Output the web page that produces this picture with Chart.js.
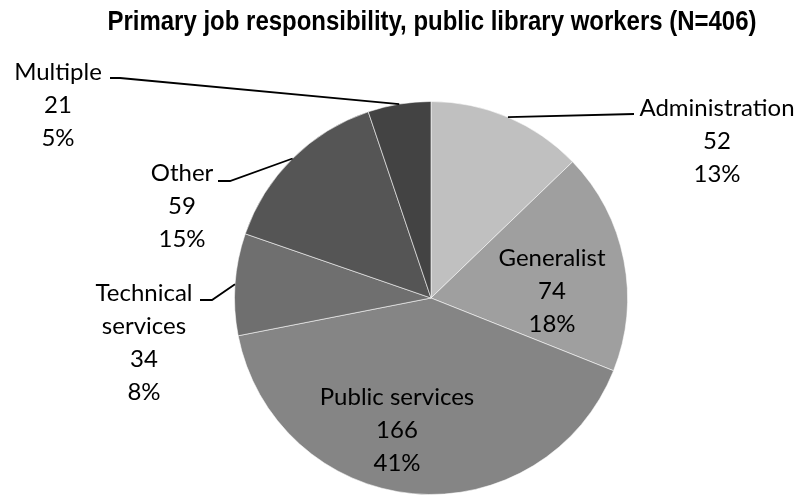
<!DOCTYPE html>
<html>
<head>
<meta charset="utf-8">
<script src="https://cdn.jsdelivr.net/npm/chart.js@4/dist/chart.umd.min.js"></script>
<style>
  html, body { margin: 0; padding: 0; background: #fff; }
  #wrap { width: 801px; height: 496px; position: relative; }
</style>
</head>
<body>
<div id="wrap"><canvas id="jobPie"></canvas></div>
<script>
// --- data ---
const chartTitle = 'Primary job responsibility, public library workers (N=406)';
const categories = ['Administration', 'Generalist', 'Public services', 'Technical services', 'Other', 'Multiple'];
const counts = [52, 74, 166, 34, 59, 21];
const labelLines = [['Administration'], ['Generalist'], ['Public services'], ['Technical', 'services'], ['Other'], ['Multiple']];
const sliceColors = ['#c0c0c0', '#9f9f9f', '#858585', '#6f6f6f', '#555555', '#434343'];

// where each label block sits (center x, first line y) and the bend of its leader line
const labelSpots = [
  { x: 717, y: 108, leader: [[634, 114]] },
  { x: 552, y: 258, leader: null },
  { x: 397, y: 397, leader: null },
  { x: 144, y: 293, leader: [[212, 300], [200, 300]] },
  { x: 182, y: 173, leader: [[230, 181], [218, 181]] },
  { x: 58,  y: 72,  leader: [[120, 78], [110, 78]] }
];

const LABEL_FONT = '24px Lato, "Open Sans", sans-serif';
const LINE_H = 33;
const TITLE_W = 649; // condensed title, squeezed to this width

const total = counts.reduce((a, b) => a + b, 0);

// title + data labels with leader lines
const pieLabels = {
  id: 'pieLabels',
  afterDatasetsDraw(chart) {
    const ctx = chart.ctx;
    const arcs = chart.getDatasetMeta(0).data;

    // narrow bold title: no condensed face installed, so scale it horizontally
    ctx.save();
    ctx.font = 'bold 28px "Liberation Sans Narrow", "Liberation Sans", Arial, sans-serif';
    ctx.fillStyle = '#000';
    ctx.textAlign = 'center';
    ctx.textBaseline = 'alphabetic';
    const sx = Math.min(1, TITLE_W / ctx.measureText(chartTitle).width);
    ctx.translate(432, 30);
    ctx.scale(sx, 1);
    ctx.fillText(chartTitle, 0, 0);
    ctx.restore();

    ctx.save();
    ctx.textAlign = 'center';
    ctx.textBaseline = 'middle';
    arcs.forEach((arc, i) => {
      const spot = labelSpots[i];
      if (spot.leader) {
        const mid = (arc.startAngle + arc.endAngle) / 2;
        const ex = arc.x + Math.cos(mid) * arc.outerRadius;
        const ey = arc.y + Math.sin(mid) * arc.outerRadius;
        ctx.beginPath();
        ctx.moveTo(ex, ey);
        spot.leader.forEach(p => ctx.lineTo(p[0], p[1]));
        ctx.strokeStyle = '#000';
        ctx.lineWidth = 1.8;
        ctx.stroke();
      }
      const pct = Math.round(counts[i] / total * 100) + '%';
      const lines = labelLines[i].concat([String(counts[i]), pct]);
      ctx.font = LABEL_FONT;
      ctx.fillStyle = '#000';
      lines.forEach((t, k) => ctx.fillText(t, spot.x, spot.y + k * LINE_H));
    });
    ctx.restore();
  }
};

new Chart(document.getElementById('jobPie'), {
  type: 'pie',
  data: {
    labels: categories,
    datasets: [{
      data: counts,
      backgroundColor: sliceColors,
      borderColor: 'rgba(255,255,255,0.55)',
      borderWidth: 1
    }]
  },
  options: {
    responsive: true,
    maintainAspectRatio: false,
    animation: false,
    layout: { padding: { top: 101, bottom: 1, left: 234, right: 173 } },
    plugins: {
      legend: { display: false },
      tooltip: { enabled: false },
      title: { display: false }
    }
  },
  plugins: [pieLabels]
});
</script>
</body>
</html>
